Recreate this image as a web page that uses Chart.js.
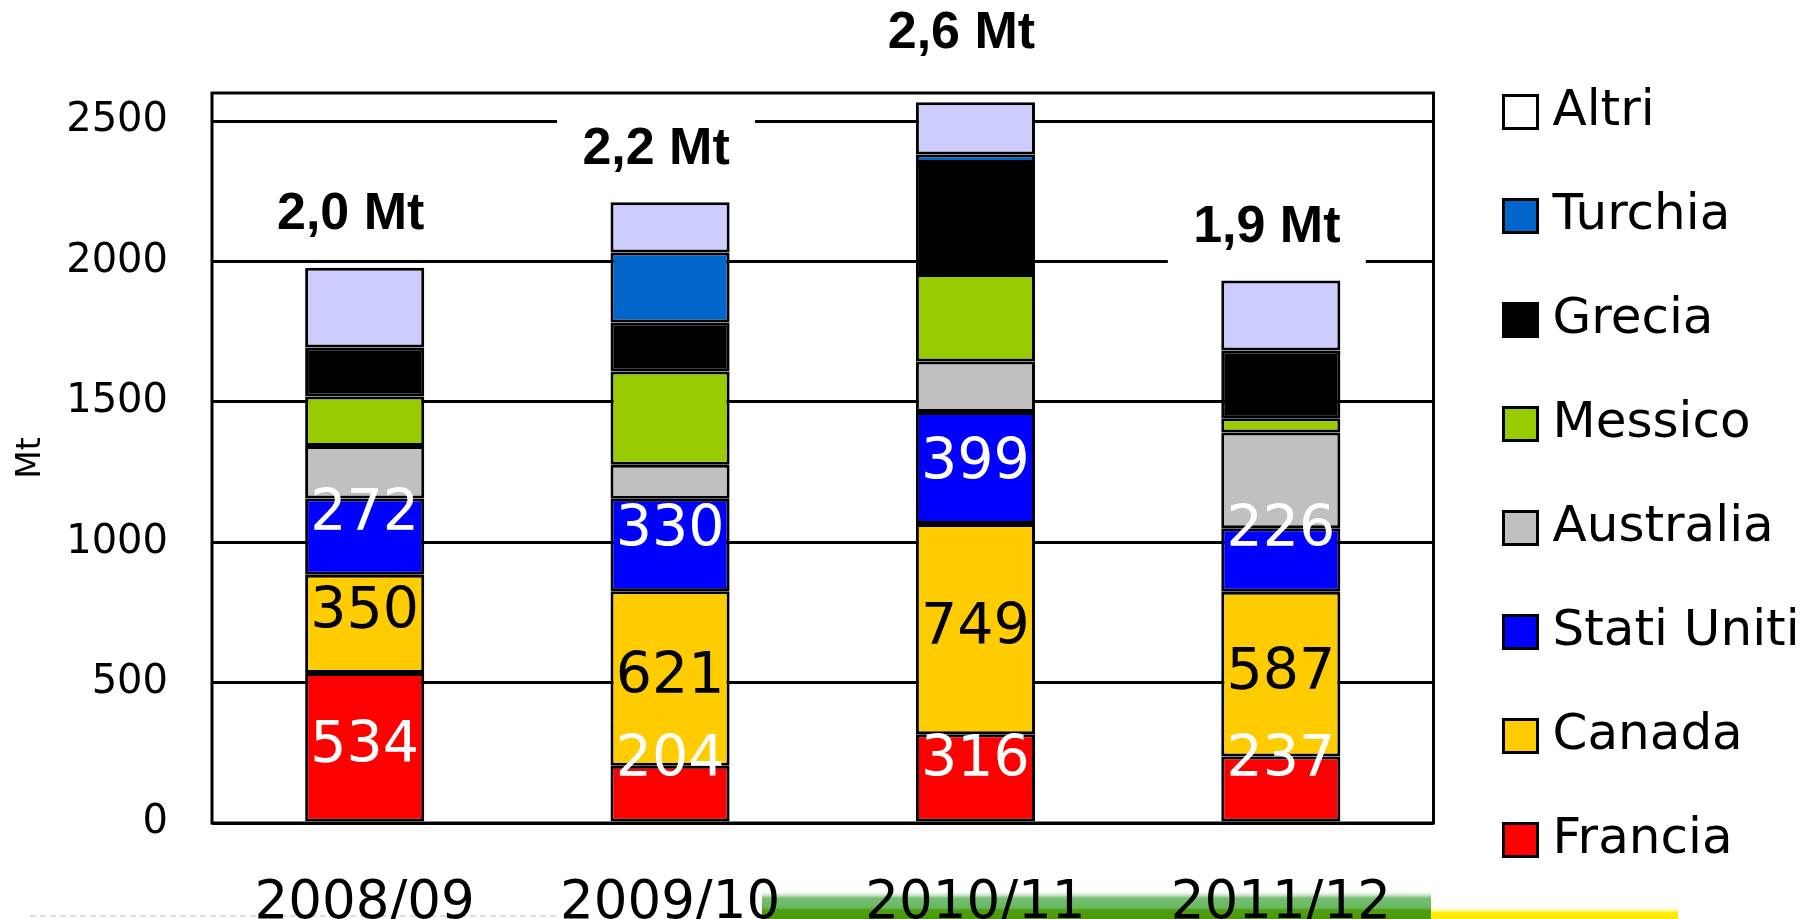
<!DOCTYPE html>
<html lang="it">
<head>
<meta charset="utf-8">
<title>Mt</title>
<script src="https://cdn.jsdelivr.net/npm/chart.js@4.4.1/dist/chart.umd.min.js"></script>
<style>
  html, body { margin: 0; padding: 0; background: #fff; }
  #wrap { position: relative; width: 1807px; height: 919px; }
</style>
</head>
<body>
<div id="wrap"><canvas id="chart"></canvas></div>
<script>
// campagne e quantità per paese (migliaia di t)
const categories = ['2008/09', '2009/10', '2010/11', '2011/12'];
const francia    = [534, 204, 316, 237];
const canada     = [350, 621, 749, 587];
const statiUniti = [272, 330, 399, 226];
const australia  = [187, 121, 180, 341];
const messico    = [176, 332, 311, 51];
const grecia     = [175, 175, 396, 241];
const turchia    = [0, 249, 30, 0];
const altri      = [284, 179, 186, 249];

const yMax = 2600;
const yTickValues = [0, 500, 1000, 1500, 2000, 2500];

const FONT = '"DejaVu Sans", Verdana, sans-serif';

// ordine di impilamento dal basso verso l'alto
const series = [
  { label: 'Francia',     data: francia,    color: '#ff0000', legend: '#ff0000', text: '#fff' },
  { label: 'Canada',      data: canada,     color: '#ffcc00', legend: '#ffcc00', text: '#000' },
  { label: 'Stati Uniti', data: statiUniti, color: '#0000ff', legend: '#0000ff', text: '#fff' },
  { label: 'Australia',   data: australia,  color: '#c0c0c0', legend: '#c0c0c0' },
  { label: 'Messico',     data: messico,    color: '#99cc00', legend: '#99cc00' },
  { label: 'Grecia',      data: grecia,     color: '#000000', legend: '#000000' },
  { label: 'Turchia',     data: turchia,    color: '#0066cc', legend: '#0066cc' },
  { label: 'Altri',       data: altri,      color: '#ccccff', legend: '#ffffff' }
];

// quadratino della legenda con bordo nero
function swatch(color) {
  const c = document.createElement('canvas');
  c.width = 37; c.height = 36;
  const g = c.getContext('2d');
  g.fillStyle = '#000';
  g.fillRect(0, 0, 37, 36);
  g.fillStyle = color;
  g.fillRect(3, 3, 31, 30);
  return c;
}

// larghezza della legenda (padding + colonna + 10) per allinearla a destra
const LEG_FONT = 50, LEG_PAD = 54, LEG_BOX = 14;
const meas = document.createElement('canvas').getContext('2d');
meas.font = LEG_FONT + 'px ' + FONT;
const widest = Math.max(...series.map(s => meas.measureText(s.label).width));
const legendW = LEG_PAD + LEG_BOX + LEG_FONT / 2 + widest + 10;
const legendRight = 1807 - 1459.5 - legendW;

// sfondo bianco e fascia colorata in fondo alla pagina
const decor = {
  id: 'decor',
  beforeDraw(chart) {
    const ctx = chart.ctx;
    ctx.save();
    ctx.fillStyle = '#fff';
    ctx.fillRect(0, 0, chart.width, chart.height);

    const gg = ctx.createLinearGradient(0, 890, 0, 919);
    gg.addColorStop(0, 'rgba(255,255,255,0)');
    gg.addColorStop(0.28, '#76be74');
    gg.addColorStop(0.62, '#66b860');
    gg.addColorStop(0.68, '#4f9e12');
    gg.addColorStop(1, '#4a9a08');
    ctx.fillStyle = gg;
    ctx.fillRect(762, 890, 669, 29);

    const yg = ctx.createLinearGradient(0, 905, 0, 919);
    yg.addColorStop(0, 'rgba(255,255,255,0)');
    yg.addColorStop(0.4, '#fff7a0');
    yg.addColorStop(0.55, '#ffee00');
    yg.addColorStop(1, '#ffe800');
    ctx.fillStyle = yg;
    ctx.fillRect(1431, 905, 247, 14);

    ctx.strokeStyle = '#dcdcdc';
    ctx.lineWidth = 2;
    ctx.setLineDash([6, 4]);
    ctx.beginPath();
    ctx.moveTo(30, 916);
    ctx.lineTo(560, 916);
    ctx.stroke();
    ctx.restore();
  }
};

// cornice dell'area del grafico
const frame = {
  id: 'frame',
  beforeDatasetsDraw(chart) {
    const { ctx, chartArea: a } = chart;
    ctx.save();
    ctx.strokeStyle = '#000';
    ctx.lineWidth = 3;
    ctx.strokeRect(a.left, a.top, a.right - a.left, a.bottom - a.top);
    ctx.restore();
  }
};

// valori dei primi tre paesi e totali sopra le colonne
const valueLabels = {
  id: 'valueLabels',
  afterDatasetsDraw(chart) {
    const ctx = chart.ctx;
    const yScale = chart.scales.y;
    ctx.save();
    ctx.textAlign = 'center';
    ctx.textBaseline = 'middle';
    ctx.font = '57px ' + FONT;
    series.forEach((s, i) => {
      if (!s.text) return;
      chart.getDatasetMeta(i).data.forEach((bar, j) => {
        const { x, y, base } = bar.getProps(['x', 'y', 'base'], true);
        const ty = Math.min((y + base) / 2, base - 60);
        ctx.fillStyle = s.text;
        ctx.fillText(String(s.data[j]), x, ty);
      });
    });

    ctx.font = 'bold 52px "Liberation Sans", Arial, sans-serif';
    const bars = chart.getDatasetMeta(0).data;
    categories.forEach((c, j) => {
      const total = series.reduce((acc, s) => acc + s.data[j], 0);
      const top = yScale.getPixelForValue(total);
      let ty = top - 53;
      if (ty - 20 < chart.chartArea.top) ty = chart.chartArea.top - 59;
      const tx = bars[j].x - 14;
      ctx.fillStyle = '#fff';
      ctx.fillRect(tx - 99, ty - 38, 198, 76);
      ctx.fillStyle = '#000';
      ctx.fillText((total / 1000).toFixed(1).replace('.', ',') + ' Mt', tx, ty);
    });
    ctx.restore();
  }
};

new Chart(document.getElementById('chart'), {
  type: 'bar',
  data: {
    labels: categories,
    datasets: series.map(s => ({
      label: s.label,
      data: s.data,
      backgroundColor: s.color,
      borderColor: '#000',
      borderWidth: 3,
      borderSkipped: false,
      categoryPercentage: 0.39,
      barPercentage: 1
    }))
  },
  options: {
    responsive: true,
    maintainAspectRatio: false,
    animation: false,
    layout: { padding: { top: 33, bottom: -20, left: 0, right: legendRight } },
    plugins: {
      title: { display: true, text: '', font: { size: 10 }, padding: { top: 0, bottom: 48 } },
      tooltip: { enabled: false },
      legend: {
        position: 'right',
        align: 'start',
        maxWidth: 600,
        labels: {
          usePointStyle: true,
          pointStyleWidth: LEG_BOX,
          padding: LEG_PAD,
          color: '#000',
          font: { family: FONT, size: LEG_FONT },
          generateLabels: chart => chart.data.datasets.map((ds, i) => ({
            text: ds.label,
            datasetIndex: i,
            pointStyle: swatch(series[i].legend),
            fillStyle: series[i].legend,
            strokeStyle: '#000',
            lineWidth: 0,
            hidden: false
          })).reverse()
        }
      }
    },
    scales: {
      x: {
        stacked: true,
        grid: { display: false },
        border: { display: false },
        ticks: { color: '#000', padding: 41, maxRotation: 0, font: { family: FONT, size: 53 } },
        afterFit(s) { s.height = 116; }
      },
      y: {
        stacked: true,
        min: 0,
        max: yMax,
        afterBuildTicks(s) { s.ticks = yTickValues.map(v => ({ value: v })); },
        ticks: { padding: 44, color: '#000', font: { family: FONT, size: 40 }, callback: v => String(v) },
        grid: { color: '#000', lineWidth: 3, drawTicks: false },
        border: { display: false },
        title: { display: true, text: 'Mt', color: '#000', font: { family: FONT, size: 33 }, padding: { top: 12, bottom: 0 } },
        afterFit(s) { s.width = 212; }
      },
      y2: {
        position: 'right',
        min: 0,
        max: yMax,
        grid: { display: false },
        border: { display: false },
        ticks: { display: false },
        afterFit(s) { s.width = 26; }
      }
    }
  },
  plugins: [decor, frame, valueLabels]
});
</script>
</body>
</html>
